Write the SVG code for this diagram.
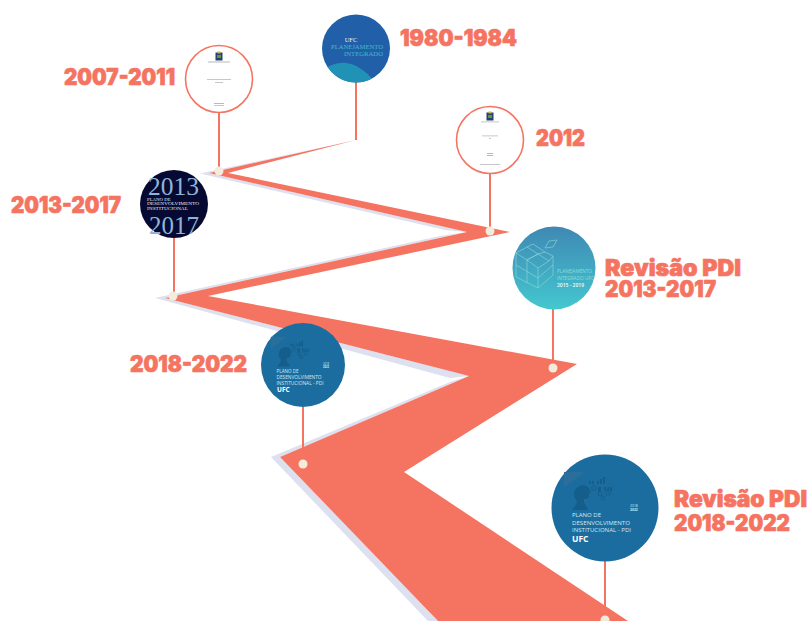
<svg xmlns="http://www.w3.org/2000/svg" width="811" height="621" viewBox="0 0 811 621">
<style>
.lbl{font-family:Inter,"Liberation Sans",sans-serif;font-weight:900;font-size:22.500px;fill:#f57461;stroke:#f57461;stroke-width:.7px}
.stem{stroke:#f57461;stroke-width:2;fill:none}
.dot{fill:#f3ecdc}
.ring{fill:#fff;stroke:#f57461;stroke-width:1.6}
.doc{fill:#b9b9b9}
.srf{font-family:"Liberation Serif",serif}
.sans{font-family:"Open Sans","Liberation Sans",sans-serif}
.pdi{fill:#d8e6ee}
.art{fill:#155d8a}
.cube{fill:none;stroke:#8fd4d6;stroke-width:.8;opacity:.8}
.shadow{fill:#dde0ee}
</style>
<defs>
<linearGradient id="tealGrad" x1="0" y1="0" x2="0" y2="1"><stop offset="0" stop-color="#3f88b4"/><stop offset="1" stop-color="#43c8cf"/></linearGradient>
<clipPath id="clip1"><circle cx="356" cy="48.500" r="34"/></clipPath>
<g id="crest"><rect x="-3.500" y="-4.500" width="7" height="8" fill="#27406f"/><rect x="-2" y="-2" width="4" height="3" fill="#5c9a45"/><rect x="-1.500" y="-5.500" width="3" height="2" fill="#d6b23c"/></g>
<g id="thinker">
<path d="M-41-21V-36H-20Z" fill="#2a6f9c"/>
<path class="art" d="M-33 2C-30-2-28-4-28-7C-32-11-32-18-27-21C-23-24-18-23-16-20L-14-16L-16-15L-16-11C-17-9-19-9-21-9L-21-5C-19-3-18-1-17 2Z"/>
<g fill="none" stroke="#155d8a" stroke-width=".9">
<circle cx="-11" cy="-20" r="2.300"/><circle cx="-5" cy="-14" r="2"/><circle cx="-2" cy="-10" r="2"/><circle cx="3" cy="-15" r="2.200"/>
</g>
<g class="art">
<rect x="-16" y="-27" width="2" height="3"/><rect x="-13" y="-27" width="2" height="3"/><rect x="-8" y="-27" width="2" height="3"/><rect x="-5" y="-29" width="2" height="5"/><rect x="-2" y="-31" width="2" height="7"/><rect x="-7" y="-21" width="3" height="5"/><rect x="-1" y="-21" width="2" height="4"/><rect x="2" y="-21" width="2" height="4"/><rect x="5" y="-21" width="2" height="4"/>
</g>
</g>
</defs>

<g id="connectors">
<g id="ribbon-shadow">
<polygon class="shadow" points="356,140 200,173.500 209,173"/>
<polygon class="shadow" points="200,173.500 445,230 467,232 209,173"/>
<polygon class="shadow" points="467,232 440,236 155,298 165,298"/>
<polygon class="shadow" points="155,298 450,378 469,376 165,298"/>
<polygon class="shadow" points="469,376 450,382 271,457 280,457"/>
<polygon class="shadow" points="271,457 428,621 438,621 280,457"/>
</g>
<polygon id="ribbon" fill="#f57461" points="356,140 209,173 467,232 165,298 469,376 280,457 438,621 628,621 404,472 577,364 208,296 510,232 228,173"/>
<path class="stem" d="M356 82V140M219 113V171M490 173V231M174 238V296M553 309V368M303 407V464M605 561V620"/>
<circle class="dot" cx="219" cy="171" r="4.500"/>
<circle class="dot" cx="490" cy="231" r="4.500"/>
<circle class="dot" cx="173" cy="296" r="4.500"/>
<circle class="dot" cx="553" cy="368" r="4.500"/>
<circle class="dot" cx="303" cy="464" r="4.500"/>
<circle class="dot" cx="605" cy="620" r="4.500"/>
</g>

<g id="node-1980-1984">
<circle cx="356" cy="48.500" r="34" fill="#2160a8"/>
<path clip-path="url(#clip1)" d="M322 70C330 65 338 62 346 63C356 64 366 71 374 81V90H322Z" fill="#1f92b6"/>
<text class="srf" x="351" y="42" font-size="6.500" fill="#e8eef6" text-anchor="middle">UFC</text>
<text class="srf" x="357" y="49" font-size="6.500" fill="#45b9cf" text-anchor="middle" textLength="52" lengthAdjust="spacingAndGlyphs">PLANEJAMENTO</text>
<text class="srf" x="363.500" y="55.500" font-size="6.500" fill="#45b9cf" text-anchor="middle" textLength="39" lengthAdjust="spacingAndGlyphs">INTEGRADO</text>
<text class="lbl" x="400" y="46" textLength="117" lengthAdjust="spacingAndGlyphs">1980-1984</text>
</g>

<g id="node-2007-2011">
<circle class="ring" cx="219" cy="79" r="33.500"/>
<use href="#crest" x="219" y="57"/>
<rect class="doc" x="208" y="61.500" width="22" height="1"/>
<rect class="doc" x="207" y="79" width="24" height=".8"/>
<rect class="doc" x="215" y="82" width="8" height=".8"/>
<rect class="doc" x="214" y="103" width="10" height="1"/>
<rect class="doc" x="214" y="105" width="10" height=".8"/>
<text class="lbl" x="64" y="85" textLength="111" lengthAdjust="spacingAndGlyphs">2007-2011</text>
</g>

<g id="node-2012">
<circle class="ring" cx="490" cy="140" r="33.500"/>
<use href="#crest" x="490" y="117"/>
<rect class="doc" x="481" y="121.500" width="18" height=".8"/>
<rect class="doc" x="482" y="135.500" width="16" height=".8"/>
<rect class="doc" x="489" y="138" width="2" height=".8"/>
<rect class="doc" x="487" y="153" width="6" height="1"/>
<rect class="doc" x="487" y="155" width="6" height="1"/>
<rect class="doc" x="480" y="164" width="20" height=".8"/>
<text class="lbl" x="536" y="145.500" textLength="49" lengthAdjust="spacingAndGlyphs">2012</text>
</g>

<g id="node-2013-2017">
<circle cx="174" cy="204" r="34" fill="#060a33"/>
<text class="srf" x="148" y="195" font-size="26" fill="#8fb4d8" textLength="51" lengthAdjust="spacingAndGlyphs">2013</text>
<text class="srf" x="147" y="200.500" font-size="4.800" fill="#e6e8f0">PLANO DE</text>
<text class="srf" x="147" y="205" font-size="4.800" fill="#e6e8f0" textLength="52" lengthAdjust="spacingAndGlyphs">DESENVOLVIMENTO</text>
<text class="srf" x="147" y="210" font-size="4.800" fill="#e6e8f0" textLength="41" lengthAdjust="spacingAndGlyphs">INSTITUCIONAL</text>
<text class="srf" x="149" y="234" font-size="26" fill="#8fb4d8" textLength="50" lengthAdjust="spacingAndGlyphs">2017</text>
<text class="lbl" x="11" y="213" textLength="110" lengthAdjust="spacingAndGlyphs">2013-2017</text>
</g>

<g id="node-revisao-2013-2017">
<circle cx="554" cy="268" r="41.500" fill="url(#tealGrad)"/>
<path class="cube" d="M516 253L527 247L538 254L527 260ZM527 247L533 244L545 252L538 254M527 260L538 254L549 261L538 268ZM545 252L553 256L549 261M516 253V277L538 288V268M538 288L553 275V256M527 260V283M516 265L538 278L553 265M545 248L549 241L557 240L553 247Z"/>
<text class="sans" x="557" y="272.500" font-size="4.800" fill="#8fdcdc" textLength="35" lengthAdjust="spacingAndGlyphs">PLANEJAMENTO</text>
<text class="sans" x="557" y="280" font-size="4.800" fill="#8fdcdc" textLength="37" lengthAdjust="spacingAndGlyphs">INTEGRADO UFC</text>
<text class="sans" x="557" y="286.500" font-size="4.800" font-weight="600" fill="#f2fbfb" textLength="27" lengthAdjust="spacingAndGlyphs">2015 - 2019</text>
<text class="lbl" x="605" y="276" textLength="136" lengthAdjust="spacingAndGlyphs">Revisão PDI</text>
<text class="lbl" x="605" y="297" textLength="111" lengthAdjust="spacingAndGlyphs">2013-2017</text>
</g>

<g id="node-2018-2022">
<circle cx="303" cy="365" r="42" fill="#1b6d9f"/>
<use href="#thinker" transform="translate(303 365) scale(.785)"/>
<text class="sans" x="323" y="364.500" font-size="2.600" fill="#d8e6ee">2018</text>
<text class="sans" x="323" y="368" font-size="2.600" font-weight="700" fill="#d8e6ee">2022</text>
<text class="sans pdi" x="276.500" y="372.500" font-size="4.600">PLANO DE</text>
<text class="sans pdi" x="276.500" y="378.500" font-size="4.600" textLength="45" lengthAdjust="spacingAndGlyphs">DESENVOLVIMENTO</text>
<text class="sans pdi" x="276.500" y="384.500" font-size="4.600" textLength="47" lengthAdjust="spacingAndGlyphs">INSTITUCIONAL - PDI</text>
<text class="sans" x="277" y="392" font-size="6.500" font-weight="700" fill="#fff">UFC</text>
<text class="lbl" x="130" y="371.500" textLength="117" lengthAdjust="spacingAndGlyphs">2018-2022</text>
</g>

<g id="node-revisao-2018-2022">
<circle cx="605" cy="508" r="53.500" fill="#1b6d9f"/>
<use href="#thinker" transform="translate(605 508)"/>
<text class="sans" x="630" y="506.500" font-size="3.400" fill="#d8e6ee">2018</text>
<text class="sans" x="630" y="511" font-size="3.400" font-weight="700" fill="#d8e6ee">2022</text>
<text class="sans pdi" x="572" y="517" font-size="6">PLANO DE</text>
<text class="sans pdi" x="572" y="524.500" font-size="6" textLength="58" lengthAdjust="spacingAndGlyphs">DESENVOLVIMENTO</text>
<text class="sans pdi" x="572" y="532" font-size="6" textLength="59" lengthAdjust="spacingAndGlyphs">INSTITUCIONAL - PDI</text>
<text class="sans" x="572" y="541.500" font-size="8.500" font-weight="700" fill="#fff">UFC</text>
<text class="lbl" x="674" y="507" textLength="133" lengthAdjust="spacingAndGlyphs">Revisão PDI</text>
<text class="lbl" x="674" y="531" textLength="116" lengthAdjust="spacingAndGlyphs">2018-2022</text>
</g>
</svg>
